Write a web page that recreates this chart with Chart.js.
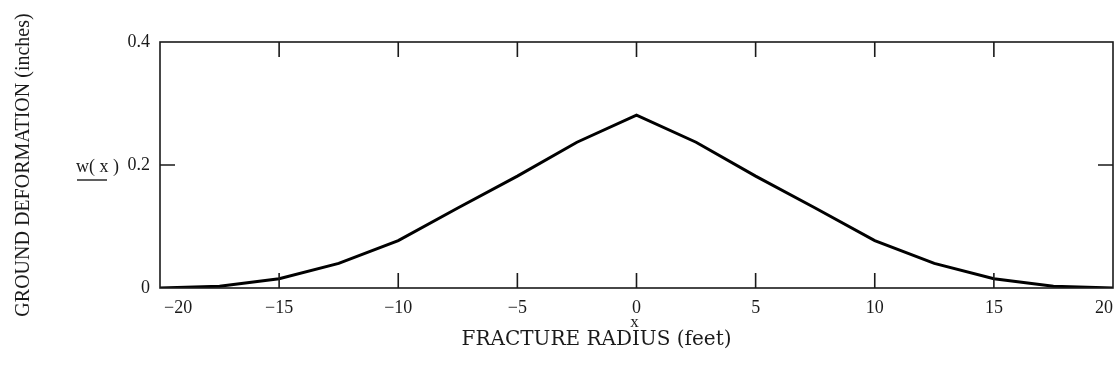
<!DOCTYPE html>
<html>
<head>
<meta charset="utf-8">
<script src="https://cdn.jsdelivr.net/npm/chart.js@4"></script>
<style>
  html, body { margin: 0; padding: 0; background: #fff; }
  #wrap { width: 1117px; height: 374px; }
</style>
</head>
<body>
<div id="wrap"><canvas id="deformChart" width="1117" height="374"></canvas></div>
<script>
// fracture radius (feet) and ground deformation w(x) (inches)
const radiusFeet = [-20, -17.5, -15, -12.5, -10, -7.5, -5, -2.5, 0, 2.5, 5, 7.5, 10, 12.5, 15, 17.5, 20];
const deformationIn = [0, 0.003, 0.015, 0.040, 0.077, 0.130, 0.182, 0.237, 0.281, 0.237, 0.182, 0.130, 0.077, 0.040, 0.015, 0.003, 0];
const xTicks = [-20, -15, -10, -5, 0, 5, 10, 15, 20];
const yTicks = [0, 0.2, 0.4];

const serif = '"Liberation Serif", "DejaVu Serif", serif';
const wideSerif = '"DejaVu Serif", "Liberation Serif", serif';
const ink = '#1a1a1a';

const fmtX = v => (v < 0 ? '\u2212' + Math.abs(v) : String(v));

// frame, inward tick marks, x labels and the Mathcad style axis labels
const frameTicks = {
  id: 'frameTicks',
  afterDraw(chart) {
    const { ctx, chartArea: a, scales } = chart;
    const len = 15;
    ctx.save();
    ctx.strokeStyle = ink;
    ctx.lineWidth = 1.6;
    ctx.strokeRect(a.left, a.top, a.right - a.left, a.bottom - a.top);
    ctx.beginPath();
    xTicks.slice(1, -1).forEach(v => {
      const px = scales.x.getPixelForValue(v);
      ctx.moveTo(px, a.bottom); ctx.lineTo(px, a.bottom - len);
      ctx.moveTo(px, a.top); ctx.lineTo(px, a.top + len);
    });
    yTicks.slice(1, -1).forEach(v => {
      const py = scales.y.getPixelForValue(v);
      ctx.moveTo(a.left, py); ctx.lineTo(a.left + len, py);
      ctx.moveTo(a.right, py); ctx.lineTo(a.right - len, py);
    });
    ctx.stroke();

    // x tick labels, end labels kept inside the frame
    ctx.fillStyle = ink;
    ctx.font = '18px ' + serif;
    ctx.textBaseline = 'middle';
    xTicks.forEach((v, i) => {
      const px = scales.x.getPixelForValue(v);
      if (i === 0) { ctx.textAlign = 'left'; ctx.fillText(fmtX(v), px + 4, a.bottom + 20); }
      else if (i === xTicks.length - 1) { ctx.textAlign = 'right'; ctx.fillText(fmtX(v), px, a.bottom + 20); }
      else { ctx.textAlign = 'center'; ctx.fillText(fmtX(v), px, a.bottom + 20); }
    });

    // x variable name and axis description
    const x0 = scales.x.getPixelForValue(0);
    ctx.textAlign = 'center';
    ctx.font = '17px ' + serif;
    ctx.fillText('x', x0 - 2, a.bottom + 35);
    ctx.font = '20px ' + wideSerif;
    ctx.fillText('FRACTURE RADIUS (feet)', x0 - 40, a.bottom + 52);

    // function label beside the y axis
    const py = scales.y.getPixelForValue(0.2);
    ctx.font = '18px ' + serif;
    ctx.textAlign = 'left';
    ctx.fillText('w( x )', 76, py + 2);
    ctx.beginPath();
    ctx.lineWidth = 1.4;
    ctx.moveTo(77, py + 15); ctx.lineTo(107, py + 15);
    ctx.stroke();
    ctx.restore();
  }
};

new Chart(document.getElementById('deformChart'), {
  type: 'line',
  data: {
    datasets: [{
      data: radiusFeet.map((x, i) => ({ x: x, y: deformationIn[i] })),
      borderColor: '#000',
      borderWidth: 3,
      pointRadius: 0,
      tension: 0,
      fill: false
    }]
  },
  options: {
    responsive: false,
    animation: false,
    layout: { padding: { top: 42, right: 4, bottom: 0, left: 0 } },
    plugins: { legend: { display: false }, tooltip: { enabled: false } },
    scales: {
      x: {
        type: 'linear',
        min: -20,
        max: 20,
        afterBuildTicks: s => { s.ticks = xTicks.map(v => ({ value: v })); },
        afterFit: s => { s.height = 86; s.paddingLeft = 0; s.paddingRight = 0; },
        grid: { display: false },
        border: { display: false },
        ticks: { display: false }
      },
      y: {
        min: 0,
        max: 0.4,
        afterBuildTicks: s => { s.ticks = yTicks.map(v => ({ value: v })); },
        afterFit: s => { s.width = 160; },
        grid: { drawOnChartArea: false, drawTicks: false },
        border: { display: false },
        ticks: {
          color: ink,
          padding: 10,
          font: { family: serif, size: 18 }
        },
        title: {
          display: true,
          text: 'GROUND DEFORMATION (inches)',
          color: ink,
          font: { family: serif, size: 20 },
          padding: { top: 12, bottom: 0 }
        }
      }
    }
  },
  plugins: [frameTicks]
});
</script>
</body>
</html>
